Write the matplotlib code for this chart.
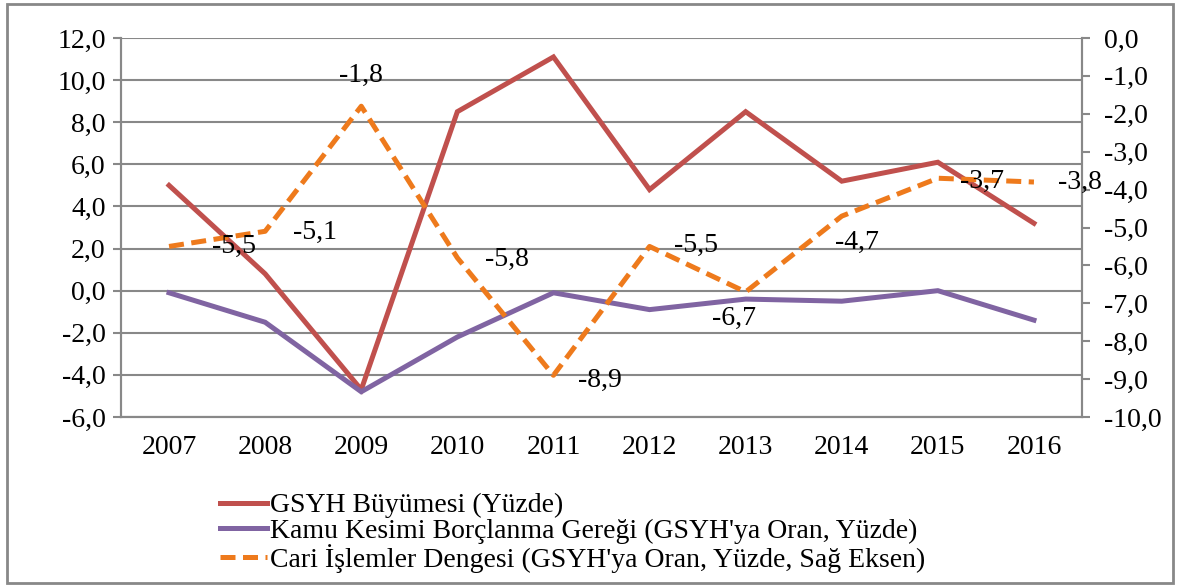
import numpy as np
import matplotlib
matplotlib.use("Agg")
import matplotlib.pyplot as plt
from matplotlib.patches import Rectangle

plt.rcParams['font.family'] = ['Liberation Serif', 'DejaVu Serif']

years = ["2007", "2008", "2009", "2010", "2011", "2012", "2013", "2014", "2015", "2016"]
gsyh = [5.0, 0.8, -4.7, 8.5, 11.1, 4.8, 8.5, 5.2, 6.1, 3.2]
kamu = [-0.1, -1.5, -4.8, -2.2, -0.1, -0.9, -0.4, -0.5, 0.0, -1.4]
cari = [-5.5, -5.1, -1.8, -5.8, -8.9, -5.5, -6.7, -4.7, -3.7, -3.8]
# etiket ofsetleri (piksel)
etiket_ofset = [(65, 0), (50, -1), (0, 31), (50, -2), (46, -5), (46, 1), (-12, -26), (15, -26), (44, -3), (46, 0)]

fs = 20
fig = plt.figure(figsize=(11.81, 5.87), dpi=100)
ax = fig.add_axes([121/1181, 1-417/587, (1082-121)/1181, (417-38)/587])
ax2 = ax.twinx()

x = np.arange(len(years))
l1, = ax.plot(x, gsyh, color='#C0504D', lw=3.6, solid_joinstyle='miter', label="GSYH Büyümesi (Yüzde)")
l2, = ax.plot(x, kamu, color='#8064A2', lw=3.6, solid_joinstyle='miter', label="Kamu Kesimi Borçlanma Gereği (GSYH'ya Oran, Yüzde)")
l3, = ax2.plot(x, cari, color='#EE7A1C', lw=3.6, dashes=(3, 1.5), label="Cari İşlemler Dengesi (GSYH'ya Oran, Yüzde, Sağ Eksen)")

for xi, v, (dx, dy) in zip(x, cari, etiket_ofset):
    ax2.annotate(f"{v:.1f}".replace('.', ','), (xi, v), xytext=(dx, dy), textcoords='offset pixels',
                 ha='center', va='center', fontsize=fs)

ax.set_xlim(-0.5, len(years) - 0.5)
ax.set_ylim(-6, 12)
ax.set_yticks(np.arange(-6, 12.1, 2))
ax.set_yticklabels([f"{v:.1f}".replace('.', ',') for v in np.arange(-6, 12.1, 2)])
ax2.set_ylim(-10, 0)
ax2.set_yticks(np.arange(-10, 0.1, 1))
ax2.set_yticklabels([f"{v:.1f}".replace('.', ',') for v in np.arange(-10, 0.1, 1)])
ax.set_xticks(x)
ax.set_xticklabels(years)

ax.grid(axis='y', color='#888888', lw=1.5)
ax.set_axisbelow(True)
for a in (ax, ax2):
    a.spines['top'].set_visible(False)
    for s in ('left', 'right', 'bottom'):
        a.spines[s].set_color('#888888')
        a.spines[s].set_linewidth(1.5)
ax.tick_params(axis='y', labelsize=fs, length=6, width=1.5, color='#888888', pad=5)
ax2.tick_params(axis='y', labelsize=fs, length=6, width=1.5, color='#888888', pad=10)
ax.tick_params(axis='x', labelsize=fs, length=0, pad=13)

fig.legend(handles=[l1, l2, l3], loc='upper left', bbox_to_anchor=(206/1181, 1-479/587),
           frameon=False, fontsize=fs, handlelength=1.7, handletextpad=0.1,
           labelspacing=0.0, borderpad=0)

fig.patches.append(Rectangle((7/1181, 1-583/587), (1173-7)/1181, (583-4)/587, transform=fig.transFigure,
                             fill=False, edgecolor='#888888', lw=2))

fig.savefig("out.png", dpi=100)
